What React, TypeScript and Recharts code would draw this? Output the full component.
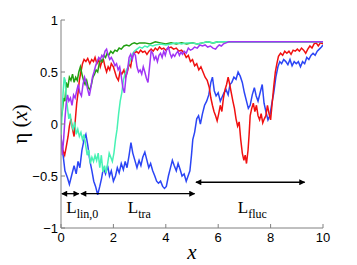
import React from 'react';
import { LineChart, Line, XAxis, YAxis, ReferenceLine, ReferenceDot } from 'recharts';

const xTicks = [0, 2, 4, 6, 8, 10];
const yTicks = [-1, -0.5, 0, 0.5, 1];

const blueSeries = [
  [0.0, -0.12], [0.08, -0.3], [0.15, -0.45], [0.25, -0.52], [0.32, -0.58], [0.4, -0.5], [0.5, -0.4], [0.58, -0.48],
  [0.65, -0.36], [0.72, -0.42], [0.8, -0.25], [0.88, -0.15], [0.95, -0.1], [1.02, -0.2], [1.1, -0.35], [1.18, -0.45],
  [1.25, -0.55], [1.32, -0.6], [1.4, -0.68], [1.48, -0.6], [1.55, -0.52], [1.62, -0.42], [1.7, -0.48], [1.78, -0.4],
  [1.85, -0.5], [1.92, -0.45], [2.0, -0.55], [2.08, -0.5], [2.15, -0.42], [2.22, -0.47], [2.3, -0.38], [2.38, -0.44],
  [2.45, -0.36], [2.52, -0.42], [2.6, -0.3], [2.67, -0.18], [2.74, -0.28], [2.82, -0.35], [2.9, -0.42], [2.98, -0.35],
  [3.05, -0.4], [3.12, -0.32], [3.2, -0.27], [3.28, -0.35], [3.35, -0.42], [3.42, -0.38], [3.5, -0.45], [3.58, -0.5],
  [3.65, -0.55], [3.72, -0.57], [3.8, -0.55], [3.88, -0.6], [3.95, -0.62], [4.02, -0.6], [4.1, -0.5], [4.18, -0.42],
  [4.25, -0.35], [4.32, -0.4], [4.4, -0.45], [4.47, -0.38], [4.55, -0.44], [4.62, -0.5], [4.7, -0.48], [4.78, -0.55],
  [4.85, -0.5], [4.92, -0.45], [4.98, -0.3], [5.03, -0.15], [5.1, -0.08], [5.18, 0.05], [5.25, 0.08], [5.32, 0.0],
  [5.4, 0.1], [5.48, 0.18], [5.56, 0.22], [5.64, 0.28], [5.72, 0.4], [5.78, 0.45], [5.85, 0.32], [5.92, 0.27],
  [6.0, 0.3], [6.08, 0.22], [6.15, 0.26], [6.22, 0.3], [6.3, 0.33], [6.38, 0.28], [6.45, 0.38], [6.52, 0.4],
  [6.6, 0.45], [6.68, 0.43], [6.76, 0.5], [6.84, 0.46], [6.92, 0.4], [7.0, 0.3], [7.08, 0.22], [7.15, 0.15],
  [7.22, 0.18], [7.3, 0.28], [7.38, 0.35], [7.45, 0.27], [7.52, 0.22], [7.6, 0.3], [7.68, 0.38], [7.75, 0.2],
  [7.82, 0.12], [7.9, 0.04], [7.97, 0.08], [8.05, 0.2], [8.12, 0.3], [8.2, 0.45], [8.28, 0.55], [8.35, 0.6],
  [8.42, 0.58], [8.5, 0.62], [8.58, 0.6], [8.66, 0.57], [8.74, 0.62], [8.82, 0.56], [8.9, 0.6], [8.98, 0.58],
  [9.06, 0.6], [9.14, 0.55], [9.22, 0.6], [9.3, 0.58], [9.38, 0.64], [9.46, 0.62], [9.54, 0.66], [9.62, 0.68],
  [9.7, 0.66], [9.78, 0.7], [9.86, 0.72], [9.94, 0.74], [10.0, 0.76],
];

const redSeries = [
  [0.0, -0.15], [0.07, -0.25], [0.14, -0.3], [0.2, -0.22], [0.27, -0.12], [0.32, -0.02], [0.38, 0.05], [0.44, -0.05],
  [0.5, -0.12], [0.55, 0.05], [0.6, 0.2], [0.65, 0.3], [0.7, 0.42], [0.76, 0.5], [0.82, 0.58], [0.88, 0.62],
  [0.95, 0.6], [1.02, 0.63], [1.1, 0.58], [1.17, 0.62], [1.24, 0.6], [1.3, 0.64], [1.37, 0.58], [1.44, 0.62],
  [1.5, 0.55], [1.56, 0.6], [1.62, 0.62], [1.68, 0.55], [1.74, 0.5], [1.8, 0.55], [1.86, 0.52], [1.92, 0.58],
  [2.0, 0.55], [2.06, 0.5], [2.12, 0.45], [2.19, 0.42], [2.25, 0.5], [2.32, 0.48], [2.4, 0.52], [2.46, 0.45],
  [2.53, 0.5], [2.6, 0.58], [2.66, 0.55], [2.72, 0.65], [2.8, 0.68], [2.88, 0.7], [2.96, 0.68], [3.04, 0.71],
  [3.12, 0.69], [3.2, 0.7], [3.28, 0.67], [3.36, 0.7], [3.44, 0.72], [3.52, 0.7], [3.6, 0.73], [3.68, 0.71],
  [3.76, 0.74], [3.84, 0.72], [3.92, 0.73], [4.0, 0.71], [4.1, 0.73], [4.2, 0.74], [4.3, 0.72], [4.4, 0.73],
  [4.5, 0.7], [4.6, 0.71], [4.7, 0.68], [4.78, 0.64], [4.86, 0.66], [4.94, 0.6], [5.02, 0.62], [5.1, 0.56],
  [5.18, 0.58], [5.26, 0.52], [5.34, 0.55], [5.42, 0.5], [5.5, 0.45], [5.58, 0.42], [5.66, 0.35], [5.72, 0.25],
  [5.78, 0.18], [5.84, 0.12], [5.9, 0.08], [5.96, 0.03], [6.02, 0.1], [6.08, 0.18], [6.14, 0.12], [6.2, 0.25],
  [6.26, 0.33], [6.32, 0.38], [6.38, 0.45], [6.44, 0.38], [6.5, 0.3], [6.56, 0.22], [6.62, 0.15], [6.68, 0.05],
  [6.74, -0.02], [6.8, 0.02], [6.86, -0.15], [6.92, -0.28], [6.98, -0.35], [7.03, -0.3], [7.08, -0.38], [7.14, -0.25],
  [7.18, -0.1], [7.22, 0.08], [7.28, 0.15], [7.34, 0.2], [7.4, 0.12], [7.46, 0.18], [7.52, 0.08], [7.58, 0.04],
  [7.64, 0.1], [7.7, 0.01], [7.76, 0.05], [7.82, 0.08], [7.88, 0.18], [7.94, 0.1], [8.0, 0.04], [8.06, 0.2],
  [8.12, 0.36], [8.18, 0.5], [8.24, 0.58], [8.3, 0.65], [8.38, 0.68], [8.46, 0.66], [8.54, 0.7], [8.62, 0.68],
  [8.7, 0.7], [8.78, 0.67], [8.86, 0.71], [8.94, 0.7], [9.02, 0.72], [9.1, 0.7], [9.18, 0.73], [9.26, 0.71],
  [9.34, 0.68], [9.42, 0.72], [9.5, 0.75], [9.58, 0.73], [9.66, 0.77], [9.74, 0.78], [9.82, 0.75], [9.9, 0.78],
  [10.0, 0.77],
];

const greenSeries = [
  [0.0, 0.05], [0.05, 0.12], [0.1, 0.25], [0.15, 0.22], [0.2, 0.4], [0.26, 0.35], [0.32, 0.45], [0.38, 0.42],
  [0.44, 0.48], [0.5, 0.4], [0.56, 0.45], [0.62, 0.42], [0.68, 0.5], [0.74, 0.55], [0.8, 0.48], [0.86, 0.42],
  [0.92, 0.38], [0.98, 0.42], [1.04, 0.35], [1.1, 0.33], [1.16, 0.38], [1.22, 0.45], [1.28, 0.48], [1.34, 0.52],
  [1.4, 0.5], [1.46, 0.58], [1.52, 0.62], [1.58, 0.6], [1.64, 0.66], [1.7, 0.64], [1.76, 0.68], [1.82, 0.66],
  [1.9, 0.7], [1.98, 0.68], [2.06, 0.71], [2.14, 0.7], [2.22, 0.73], [2.3, 0.72], [2.4, 0.75], [2.5, 0.76],
  [2.6, 0.75], [2.7, 0.77], [2.8, 0.78], [2.9, 0.77], [3.0, 0.78], [3.2, 0.78], [3.4, 0.77], [3.6, 0.79],
  [3.8, 0.78], [4.0, 0.77], [4.2, 0.78], [4.4, 0.77], [4.6, 0.78], [4.8, 0.77], [5.0, 0.78], [5.2, 0.77],
  [5.4, 0.78], [5.6, 0.79], [5.8, 0.78], [6.0, 0.79], [6.4, 0.79], [10.0, 0.79],
];

const cyanSeries = [
  [0.0, -0.1], [0.04, 0.1], [0.08, 0.3], [0.12, 0.45], [0.16, 0.42], [0.2, 0.25], [0.25, 0.15], [0.3, 0.05],
  [0.35, 0.1], [0.4, 0.0], [0.46, -0.05], [0.52, 0.02], [0.58, -0.1], [0.64, -0.05], [0.7, -0.12], [0.76, -0.08],
  [0.82, -0.15], [0.88, -0.1], [0.94, -0.2], [1.0, -0.3], [1.06, -0.25], [1.12, -0.38], [1.18, -0.32], [1.24, -0.36],
  [1.3, -0.3], [1.36, -0.35], [1.42, -0.28], [1.48, -0.42], [1.54, -0.3], [1.6, -0.46], [1.66, -0.4], [1.72, -0.47],
  [1.78, -0.38], [1.84, -0.28], [1.9, -0.32], [1.96, -0.36], [2.02, -0.28], [2.08, -0.15], [2.14, -0.05], [2.2, 0.1],
  [2.26, 0.22], [2.32, 0.3], [2.38, 0.42], [2.44, 0.48], [2.5, 0.52], [2.56, 0.55], [2.62, 0.6], [2.68, 0.64],
  [2.74, 0.68], [2.8, 0.7], [2.9, 0.72], [3.0, 0.74], [3.1, 0.73], [3.2, 0.75], [3.3, 0.74], [3.4, 0.76],
  [3.5, 0.75], [3.6, 0.76], [3.8, 0.77], [4.0, 0.76], [4.2, 0.77], [4.4, 0.78], [4.6, 0.77], [4.8, 0.78],
  [5.0, 0.78], [5.2, 0.77], [5.4, 0.78], [5.6, 0.79], [5.8, 0.78], [6.0, 0.79], [6.2, 0.79], [10.0, 0.79],
];

const purpleSeries = [
  [0.0, -0.1], [0.05, -0.3], [0.1, -0.15], [0.15, 0.05], [0.2, 0.2], [0.25, 0.28], [0.3, 0.22], [0.36, 0.25],
  [0.42, 0.18], [0.48, 0.28], [0.54, 0.25], [0.6, 0.32], [0.66, 0.38], [0.72, 0.3], [0.78, 0.27], [0.84, 0.38],
  [0.9, 0.45], [0.96, 0.4], [1.02, 0.33], [1.08, 0.27], [1.14, 0.35], [1.2, 0.45], [1.26, 0.5], [1.32, 0.56],
  [1.38, 0.6], [1.44, 0.64], [1.5, 0.62], [1.56, 0.66], [1.62, 0.64], [1.68, 0.7], [1.74, 0.72], [1.8, 0.66],
  [1.86, 0.62], [1.92, 0.64], [2.0, 0.6], [2.06, 0.56], [2.12, 0.58], [2.18, 0.52], [2.24, 0.55], [2.3, 0.46],
  [2.36, 0.35], [2.42, 0.3], [2.48, 0.45], [2.54, 0.52], [2.6, 0.64], [2.66, 0.67], [2.72, 0.62], [2.78, 0.68],
  [2.84, 0.66], [2.9, 0.55], [2.96, 0.5], [3.02, 0.52], [3.08, 0.48], [3.14, 0.55], [3.2, 0.5], [3.26, 0.44],
  [3.32, 0.4], [3.38, 0.55], [3.44, 0.7], [3.5, 0.68], [3.56, 0.62], [3.62, 0.65], [3.68, 0.6], [3.74, 0.66],
  [3.8, 0.68], [3.86, 0.64], [3.92, 0.7], [3.98, 0.66], [4.04, 0.72], [4.1, 0.74], [4.16, 0.68], [4.22, 0.64],
  [4.28, 0.67], [4.34, 0.65], [4.4, 0.68], [4.46, 0.7], [4.52, 0.66], [4.58, 0.69], [4.64, 0.67], [4.7, 0.7],
  [4.78, 0.68], [4.86, 0.73], [4.94, 0.71], [5.02, 0.72], [5.1, 0.74], [5.2, 0.73], [5.3, 0.76], [5.4, 0.75],
  [5.5, 0.76], [5.6, 0.74], [5.7, 0.75], [5.8, 0.73], [5.9, 0.72], [5.96, 0.74], [6.04, 0.76], [6.12, 0.75],
  [6.2, 0.77], [6.3, 0.78], [6.4, 0.79], [10.0, 0.79],
];

const arrowSegments = [
  { x1: 0.03, x2: 0.68, y: -0.67 },
  { x1: 0.76, x2: 5.1, y: -0.67 },
  { x1: 5.15, x2: 9.3, y: -0.56 },
];

const lengthLabels = [
  { main: 'L', sub: 'lin,0', x: 0.2, y: -0.86 },
  { main: 'L', sub: 'tra', x: 2.55, y: -0.86 },
  { main: 'L', sub: 'fluc', x: 6.75, y: -0.86 },
];

const toPoints = (s: number[][]) => s.map(([x, y]) => ({ x, y }));

const SERIF = "'Liberation Serif', 'Times New Roman', serif";
const SANS = "'Liberation Sans', Arial, sans-serif";
const AXIS = '#808080';

const fmt = (v: number) => String(v).replace('-', '\u2212');

const ArrowShape = (p: any) => (
  <line x1={p.x1} y1={p.y1} x2={p.x2} y2={p.y2} stroke="#000" strokeWidth={1.3}
    markerStart="url(#arrowHead)" markerEnd="url(#arrowHead)" />
);

export default function App() {
  return (
    <div style={{ position: 'absolute', left: 0, top: 0, width: 357, height: 265, background: '#fff' }}>
      <svg width={0} height={0} style={{ position: 'absolute' }}>
        <defs>
          <marker id="arrowHead" viewBox="0 0 10 10" refX="9" refY="5" markerWidth="8" markerHeight="6"
            markerUnits="userSpaceOnUse" orient="auto-start-reverse">
            <path d="M0,0 L10,5 L0,10 z" fill="#000" />
          </marker>
        </defs>
      </svg>
      <LineChart width={357} height={265} margin={{ top: 20, right: 34, bottom: 0, left: 0 }}>
        <XAxis dataKey="x" type="number" domain={[0, 10]} ticks={xTicks} allowDataOverflow
          height={37} stroke={AXIS} tickSize={-4} tickMargin={9}
          tick={{ fill: '#000', fontSize: 13, fontFamily: SANS }}
          label={{
            content: (props: any) => {
              const vb = props.viewBox || { x: 61, width: 262 };
              return (
                <text x={vb.x + vb.width / 2 + 0} y={259} textAnchor="middle" fontFamily={SERIF}
                  fontStyle="italic" fontSize={21} fill="#000">x</text>
              );
            },
          }}
        />
        <XAxis xAxisId="top" orientation="top" dataKey="x" type="number" domain={[0, 10]} ticks={xTicks}
          height={0} stroke={AXIS} tickSize={-4} tick={false} />
        <YAxis type="number" domain={[-1, 1]} ticks={yTicks} allowDataOverflow width={61} stroke={AXIS}
          tickSize={-4} tickMargin={7} tickFormatter={fmt}
          tick={{ fill: '#000', fontSize: 13, fontFamily: SANS }}
          label={{
            content: () => (
              <text x={27} y={124} transform="rotate(-90 27 124)" textAnchor="middle" fontFamily={SERIF}
                fontSize={21} fill="#000">
                {'\u03B7 ('}<tspan fontStyle="italic">x</tspan>{')'}
              </text>
            ),
          }}
        />
        <YAxis yAxisId="right" orientation="right" type="number" domain={[-1, 1]} ticks={yTicks} width={0}
          stroke={AXIS} tickSize={-4} tick={false} />
        <Line data={toPoints(blueSeries)} dataKey="y" stroke="#2b45f5" strokeWidth={1.5} dot={false}
          isAnimationActive={false} />
        <Line data={toPoints(redSeries)} dataKey="y" stroke="#f01010" strokeWidth={1.5} dot={false}
          isAnimationActive={false} />
        <Line data={toPoints(greenSeries)} dataKey="y" stroke="#22a012" strokeWidth={1.5} dot={false}
          isAnimationActive={false} />
        <Line data={toPoints(cyanSeries)} dataKey="y" stroke="#48f2b4" strokeWidth={1.5} dot={false}
          isAnimationActive={false} />
        <Line data={toPoints(purpleSeries)} dataKey="y" stroke="#a035f5" strokeWidth={1.5} dot={false}
          isAnimationActive={false} />
        {arrowSegments.map((a, i) => (
          <ReferenceLine key={'a' + i} segment={[{ x: a.x1, y: a.y }, { x: a.x2, y: a.y }]} shape={ArrowShape}
            ifOverflow="visible" />
        ))}
        {lengthLabels.map((l, i) => (
          <ReferenceDot key={'l' + i} x={l.x} y={l.y} r={0} ifOverflow="visible"
            shape={(p: any) => (
              <text x={p.cx} y={p.cy} fontFamily={SERIF} fontSize={17} fill="#000">
                {l.main}<tspan fontSize={12} dy={5}>{l.sub}</tspan>
              </text>
            )}
          />
        ))}
      </LineChart>
    </div>
  );
}
